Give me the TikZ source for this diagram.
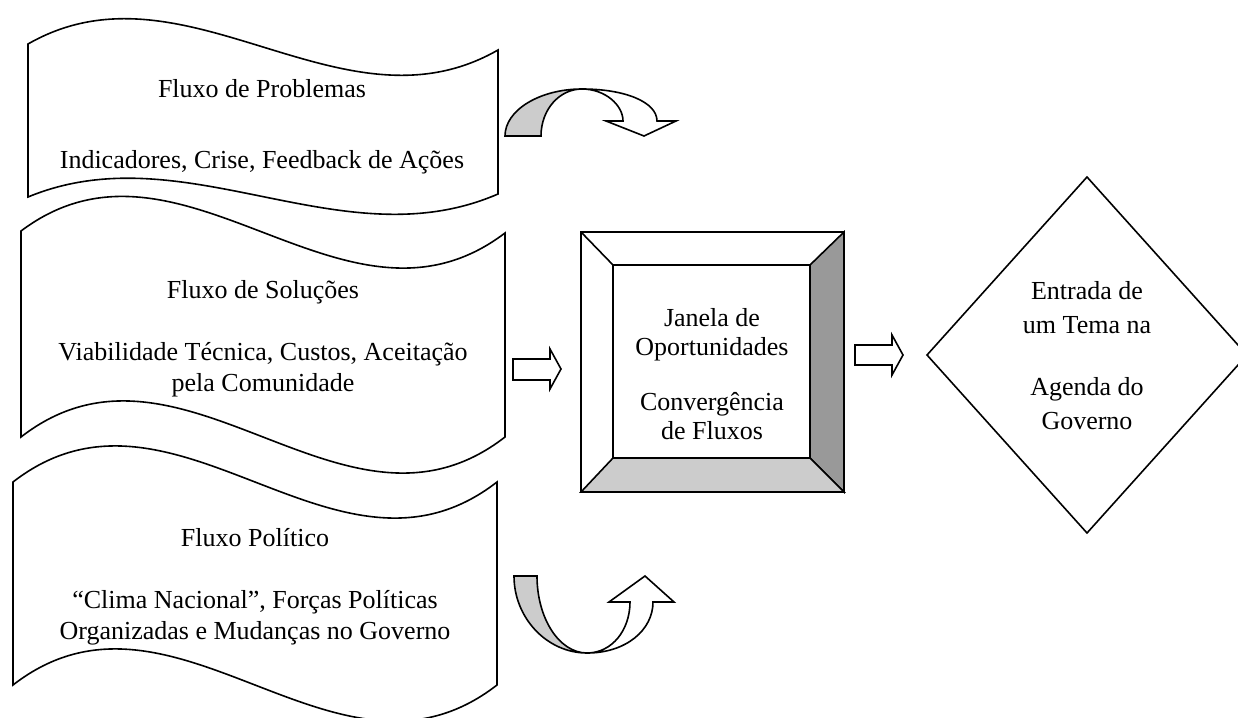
\documentclass[tikz,border=0pt]{standalone}
\usepackage{fontspec}
\setmainfont{Liberation Serif}
\begin{document}
\begin{tikzpicture}[x=0.5pt,y=-0.5pt,line width=0.8pt,
    fluxtext/.style={align=center,font=\fontsize{13}{15.5}\selectfont},
    bandgray/.style={draw,fill=black!20},
    bandwhite/.style={draw,fill=white}]
  \useasboundingbox (0,0) rectangle (1238,718);
  % the three flows
  \draw (28,44) .. controls (185,-46) and (341,140) .. (498,50)
    -- (498,194) .. controls (341,262) and (185,132) .. (28,197) -- cycle;
  \draw (21,231) .. controls (182,110) and (344,355) .. (505,233)
    -- (505,437) .. controls (344,562) and (182,312) .. (21,437) -- cycle;
  \draw (13,482) .. controls (174,357) and (336,607) .. (497,482)
    -- (497,685) .. controls (336,810) and (174,560) .. (13,685) -- cycle;
  \node[fluxtext] (probtext) at (262,127)
    {Fluxo de Problemas\\[20pt]Indicadores, Crise, Feedback de Ações};
  \node[fluxtext] (soltext) at (263,339)
    {Fluxo de Soluções\\[15.5pt]Viabilidade Técnica, Custos, Aceitação\\pela Comunidade};
  \node[fluxtext] (poltext) at (255,587)
    {Fluxo Político\\[15.5pt]“Clima Nacional”, Forças Políticas\\Organizadas e Mudanças no Governo};
  % window
  \draw[fill=white] (581,232) rectangle (844,492);
  \draw[fill=black!40] (844,232) -- (810,265) -- (810,458) -- (844,492) -- cycle;
  \draw[fill=black!20] (581,492) -- (613,458) -- (810,458) -- (844,492) -- cycle;
  \draw (581,232) -- (613,265);
  \draw (613,265) rectangle (810,458);
  \node[fluxtext,font=\fontsize{13}{14.5}\selectfont] (janela) at (712,374)
    {Janela de\\Oportunidades\\[13pt]Convergência\\de Fluxos};
  % agenda
  \draw (927,355) -- (1087,177) -- (1247,355) -- (1087,533) -- cycle;
  \node[fluxtext,font=\fontsize{13}{17}\selectfont] (entrada) at (1087,356)
    {Entrada de\\um Tema na\\[14pt]Agenda do\\Governo};
  % block arrows
  \draw[fill=white] (513,359) -- (550,359) -- (550,349) -- (561,369)
    -- (550,389) -- (550,380) -- (513,380) -- cycle;
  \draw[fill=white] (855,345) -- (892,345) -- (892,335) -- (903,355)
    -- (892,375) -- (892,365) -- (855,365) -- cycle;
  % curved arrows
  \draw[bandgray] (505,136) .. controls (505,110) and (540,89) .. (582,89)
    .. controls (559,89) and (541,110) .. (541,136) -- cycle;
  \draw[bandwhite] (582,89) .. controls (625,89) and (657,102) .. (657,121)
    -- (676,121) -- (644,136) -- (606,121) -- (623,121)
    .. controls (623,105) and (605,89) .. (582,89) -- cycle;
  \draw[bandgray] (514,576) .. controls (514,618) and (547,653) .. (587,653)
    .. controls (559,653) and (537,618) .. (537,576) -- cycle;
  \draw[bandwhite] (587,653) .. controls (626,653) and (653,630) .. (653,602)
    -- (674,602) -- (645,576) -- (609,602) -- (630,602)
    .. controls (630,630) and (612,653) .. (587,653) -- cycle;
\end{tikzpicture}
\end{document}
